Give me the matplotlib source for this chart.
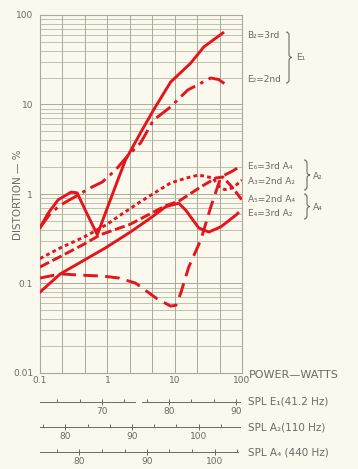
import matplotlib
matplotlib.use('Agg')
import matplotlib.pyplot as plt
from matplotlib.path import Path
from matplotlib.patches import PathPatch

# --- data (power in W, distortion in %) ---
b2_power = [0.1, 0.132, 0.186, 0.29, 0.356, 0.50, 0.71, 1.0, 1.32, 1.86, 3.1, 4.86, 8.7, 17.3, 27.1, 52]
b2_dist = [0.42, 0.61, 0.86, 1.05, 1.03, 0.60, 0.35, 0.70, 1.22, 2.4, 4.8, 8.7, 17.8, 29, 44, 63]

e2_power = [0.1, 0.141, 0.2, 0.33, 0.557, 0.84, 1.32, 2.06, 3.1, 4.86, 8.7, 15.6, 34.4, 45, 61.8]
e2_dist = [0.42, 0.60, 0.75, 0.93, 1.17, 1.36, 1.85, 2.73, 3.7, 6.7, 9.4, 14.5, 19.8, 19.0, 16.1]

e6_power = [0.1, 0.2, 0.4, 0.85, 1.5, 2.63, 5.4, 8.7, 10.4, 12.3, 16.2, 24.4, 34.4, 48.6, 73, 100]
e6_dist = [0.115, 0.128, 0.124, 0.121, 0.115, 0.101, 0.068, 0.056, 0.057, 0.078, 0.153, 0.306, 0.716, 1.55, 1.81, 2.1]

a3_power = [0.1, 0.2, 0.45, 1.0, 1.5, 3.1, 8.7, 15, 22.8, 36.9, 45.4, 55, 73, 100]
a3_dist = [0.19, 0.25, 0.33, 0.46, 0.57, 0.82, 1.33, 1.51, 1.63, 1.51, 1.22, 1.12, 1.17, 1.43]

a5_power = [0.1, 0.2, 0.45, 0.786, 2.2, 7.34, 11.5, 24.4, 40.9, 52, 73, 100]
a5_dist = [0.153, 0.20, 0.275, 0.35, 0.46, 0.74, 0.83, 1.2, 1.51, 1.55, 1.17, 0.857]

e4_power = [0.1, 0.2, 0.93, 2.2, 4.4, 7.34, 11.5, 14.6, 22.8, 32.2, 48.6, 81, 87]
e4_dist = [0.08, 0.128, 0.249, 0.376, 0.54, 0.72, 0.79, 0.66, 0.417, 0.376, 0.43, 0.58, 0.61]

x_ticks = [0.1, 1, 10, 100]
x_labels = ['0.1', '1', '10', '100']
y_ticks = [0.01, 0.1, 1, 10, 100]
y_labels = ['0.01', '0.1', '1', '10', '100']

spl_e1_major = [70, 80, 90]
spl_e1_minor = [63.33, 66.67, 73.33, 76.67, 83.33, 86.67]
spl_a2_major = [80, 90, 100]
spl_a2_minor = [76.67, 83.33, 86.67, 93.33, 96.67, 103.33]
spl_a4_major = [80, 90, 100]
spl_a4_minor = [76.67, 83.33, 86.67, 93.33, 96.67, 103.33]

W, H = 358, 469
BG = '#fbf9ee'
GRID = '#a7ab98'
TXT = '#6a6a66'
RED = '#e2161c'


def fx(px):
    return px / W


def fy(py):
    return 1 - py / H


def brace(fig, x, y0, y1, w=3.0):
    ym = (y0 + y1) / 2
    pts = [(x, y0), (x + w, y0), (x + w, y0 + w),
           (x + w, ym - w), (x + w, ym), (x + 2 * w, ym),
           (x + w, ym), (x + w, ym + w),
           (x + w, y1 - w), (x + w, y1), (x, y1)]
    codes = [Path.MOVETO, Path.CURVE3, Path.CURVE3,
             Path.LINETO, Path.CURVE3, Path.CURVE3,
             Path.CURVE3, Path.CURVE3,
             Path.LINETO, Path.CURVE3, Path.CURVE3]
    verts = [(fx(a), fy(b)) for a, b in pts]
    fig.add_artist(PathPatch(Path(verts, codes), transform=fig.transFigure,
                             fill=False, lw=0.8, edgecolor=TXT))


fig = plt.figure(figsize=(W / 100, H / 100), dpi=100)
fig.patch.set_facecolor(BG)

ax = fig.add_axes([fx(40), fy(373), fx(242) - fx(40), fy(15) - fy(373)])
ax.set_facecolor(BG)
ax.set_xscale('log')
ax.set_yscale('log')
ax.set_xlim(0.1, 100)
ax.set_ylim(0.01, 100)

# graph paper grid
for d in [0.1, 1, 10]:
    for k in range(3):
        ax.axvline(d * 10 ** (k / 3), color=GRID, lw=0.7, zorder=1)
for d in [0.01, 0.1, 1, 10]:
    for m in range(1, 10):
        ax.axhline(d * m, color=GRID, lw=0.7 if m == 1 else 0.5, zorder=1)
for s in ax.spines.values():
    s.set_color(GRID)
    s.set_linewidth(0.8)

# curves
lw = 2.1
ax.plot(b2_power, b2_dist, color=RED, lw=lw, ls='-', zorder=3)
ax.plot(e2_power, e2_dist, color=RED, lw=lw, ls=(0, (6, 2, 1.2, 2)), zorder=3)
ax.plot(e6_power, e6_dist, color=RED, lw=lw, ls=(0, (5, 2.5)), zorder=3)
ax.plot(a3_power, a3_dist, color=RED, lw=lw, ls=(0, (1.3, 1.1)), zorder=3)
ax.plot(a5_power, a5_dist, color=RED, lw=lw, ls=(0, (3.5, 1.3)), zorder=3)
ax.plot(e4_power, e4_dist, color=RED, lw=lw, ls='-', zorder=3)

ax.set_xticks(x_ticks, x_labels)
ax.set_xticks([d * 10 ** (k / 3) for d in [0.1, 1, 10] for k in (1, 2)], minor=True)
ax.set_yticks(y_ticks, y_labels)
ax.yaxis.set_minor_locator(matplotlib.ticker.NullLocator())
ax.xaxis.set_minor_formatter(matplotlib.ticker.NullFormatter())
ax.tick_params(axis='x', which='major', direction='in', length=6, width=0.7,
               color=GRID, labelsize=6.5, labelcolor=TXT, pad=2)
ax.tick_params(axis='x', which='minor', direction='in', length=3, width=0.7, color=GRID)
ax.tick_params(axis='y', which='major', length=0, labelsize=6.5, labelcolor=TXT, pad=5)

fig.text(fx(18), fy(195), 'DISTORTION — %', rotation=90, ha='center', va='center',
         fontsize=7.5, color=TXT)
fig.text(fx(249), fy(375), 'POWER—WATTS', ha='left', va='center', fontsize=8, color=TXT)

# curve labels at right
lab = dict(ha='left', va='center', fontsize=6.5, color=TXT)
fig.text(fx(247), fy(35), 'B₂=3rd', **lab)
fig.text(fx(247), fy(80), 'E₂=2nd', **lab)
brace(fig, 286, 32, 83)
fig.text(fx(296), fy(58), 'E₁', **lab)

fig.text(fx(248), fy(166), 'E₆=3rd A₄', **lab)
fig.text(fx(248), fy(182), 'A₃=2nd A₂', **lab)
brace(fig, 304, 160, 190)
fig.text(fx(313), fy(176), 'A₂', **lab)

fig.text(fx(248), fy(199), 'A₅=2nd A₄', **lab)
fig.text(fx(248), fy(214), 'E₄=3rd A₂', **lab)
brace(fig, 304, 194, 219)
fig.text(fx(313), fy(207), 'A₄', **lab)


# SPL scales
def spl_axis(ypix, lim, major, minor, label, segs):
    sa = fig.add_axes([fx(40), fy(ypix), fx(242) - fx(40), 0.001])
    sa.set_facecolor('none')
    sa.set_xlim(*lim)
    sa.set_ylim(0, 1)
    for s in sa.spines.values():
        s.set_visible(False)
    for a, b in segs:
        sa.axhline(0, a, b, color=TXT, lw=0.7, clip_on=False)
    sa.set_yticks([])
    sa.set_xticks(major, [str(v) for v in major])
    sa.set_xticks(minor, minor=True)
    sa.xaxis.set_minor_formatter(matplotlib.ticker.NullFormatter())
    sa.tick_params(axis='x', which='major', direction='inout', length=5, width=0.7,
                   color=TXT, labelsize=6.5, labelcolor=TXT, pad=1)
    sa.tick_params(axis='x', which='minor', direction='in', length=2.5, width=0.7, color=TXT)
    fig.text(fx(248), fy(ypix), label, ha='left', va='center', fontsize=7.5, color=TXT)


spl_axis(402, (60.75, 90.9), spl_e1_major, spl_e1_minor, 'SPL E₁(41.2 Hz)',
         [(0, 0.47), (0.505, 0.99)])
spl_axis(427, (76.2, 106.5), spl_a2_major, spl_a2_minor, 'SPL A₂(110 Hz)', [(0, 0.99)])
spl_axis(452, (74.15, 104.07), spl_a4_major, spl_a4_minor, 'SPL A₄ (440 Hz)', [(0, 0.98)])

fig.savefig('out.png', dpi=100, facecolor=BG)
